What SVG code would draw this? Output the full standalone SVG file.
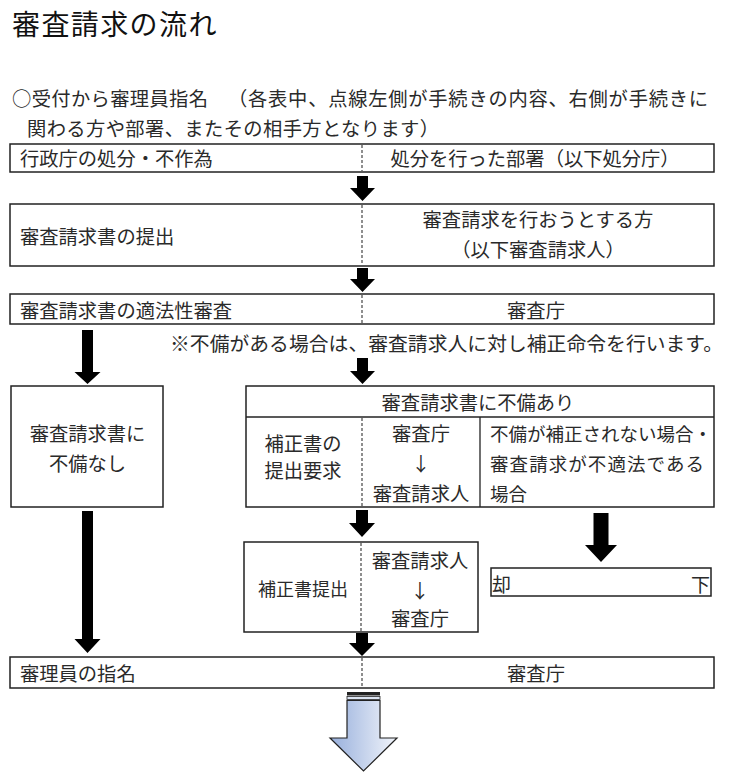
<svg xmlns="http://www.w3.org/2000/svg" width="730" height="779" viewBox="0 0 730 779">
<defs>
<linearGradient id="blueGrad" x1="0" y1="0" x2="1" y2="0">
<stop offset="0" stop-color="#97afdc"/>
<stop offset="1" stop-color="#f2f5fb"/>
</linearGradient>
<style>
.t{font-family:"Noto Sans CJK JP",sans-serif;font-size:19.3px;fill:#2a2a2a;dominant-baseline:central}
.m{text-anchor:middle}
.e{text-anchor:end}
.title{font-family:"Noto Sans CJK JP",sans-serif;font-size:28px;fill:#111;letter-spacing:1.4px}
.box{fill:#fff;stroke:#222;stroke-width:1.5}
.dash{stroke:#444;stroke-width:1.2;stroke-dasharray:3 2;fill:none}
.sol{stroke:#222;stroke-width:1.3;fill:none}
.arr{fill:#000}
</style>
</defs>
<rect width="730" height="779" fill="#fff"/>

<g id="title">
<text class="title" x="12" y="35">審査請求の流れ</text>
</g>

<g id="intro">
<text class="t" x="12" y="98" textLength="196" lengthAdjust="spacing">○受付から審理員指名</text>
<text class="t" x="228" y="98" textLength="480" lengthAdjust="spacing">（各表中、点線左側が手続きの内容、右側が手続きに</text>
<text class="t" x="27" y="128" textLength="412" lengthAdjust="spacing">関わる方や部署、またその相手方となります）</text>
</g>

<g id="node-shobun">
<rect class="box" x="10" y="144" width="704" height="28"/>
<line class="dash" x1="362" y1="145" x2="362" y2="171"/>
<text class="t" x="20" y="158">行政庁の処分・不作為</text>
<text class="t m" x="535" y="158">処分を行った部署（以下処分庁）</text>
</g>

<g id="node-teishutsu">
<rect class="box" x="10" y="204" width="704" height="62"/>
<line class="dash" x1="362" y1="205" x2="362" y2="265"/>
<text class="t" x="20" y="236">審査請求書の提出</text>
<text class="t m" x="538" y="219">審査請求を行おうとする方</text>
<text class="t m" x="538" y="249">（以下審査請求人）</text>
</g>

<g id="node-tekihousei">
<rect class="box" x="10" y="294" width="704" height="30"/>
<line class="dash" x1="362" y1="295" x2="362" y2="323"/>
<text class="t" x="20" y="310">審査請求書の適法性審査</text>
<text class="t m" x="536" y="310">審査庁</text>
</g>

<g id="note">
<text class="t" x="170" y="342" style="font-size:19.8px" textLength="553" lengthAdjust="spacing">※不備がある場合は、審査請求人に対し補正命令を行います。</text>
</g>

<g id="node-fubi-nashi">
<rect class="box" x="11" y="386" width="152" height="121"/>
<text class="t m" x="87.5" y="433">審査請求書に</text>
<text class="t m" x="87.5" y="463">不備なし</text>
</g>

<g id="node-fubi-ari">
<rect class="box" x="246" y="386" width="468" height="121"/>
<line class="sol" x1="246" y1="417" x2="714" y2="417"/>
<line class="dash" x1="362" y1="418" x2="362" y2="506"/>
<line class="sol" x1="480" y1="417" x2="480" y2="507"/>
<text class="t m" x="478" y="402">審査請求書に不備あり</text>
<text class="t m" x="303" y="443">補正書の</text>
<text class="t m" x="303" y="470">提出要求</text>
<text class="t m" x="421" y="433">審査庁</text>
<text class="t m" x="421" y="463">↓</text>
<text class="t m" x="421" y="493">審査請求人</text>
<text class="t" x="490" y="433" style="font-size:18.5px">不備が補正されない場合・</text>
<text class="t" x="490" y="463" style="font-size:18.5px" textLength="214" lengthAdjust="spacing">審査請求が不適法である</text>
<text class="t" x="490" y="493" style="font-size:18.5px">場合</text>
</g>

<g id="node-hosei-teishutsu">
<rect class="box" x="244" y="542" width="234" height="90"/>
<line class="dash" x1="361" y1="543" x2="361" y2="631"/>
<text class="t m" x="303" y="588" style="font-size:18px">補正書提出</text>
<text class="t m" x="420" y="560">審査請求人</text>
<text class="t m" x="420" y="590">↓</text>
<text class="t m" x="420" y="618">審査庁</text>
</g>

<g id="node-kyakka">
<rect class="box" x="491" y="568" width="220" height="28"/>
<text class="t" x="492" y="583" style="font-size:19px">却</text>
<text class="t e" x="710" y="583" style="font-size:19px">下</text>
</g>

<g id="node-shinriin">
<rect class="box" x="10" y="657" width="704" height="31"/>
<line class="dash" x1="362" y1="658" x2="362" y2="687"/>
<text class="t" x="20" y="673">審理員の指名</text>
<text class="t m" x="536" y="673">審査庁</text>
</g>

<g id="connectors">
<polygon class="arr" points="357,176 368,176 368,188 375,188 362.5,201 350,188 357,188"/>
<polygon class="arr" points="357,268 368,268 368,279 375,279 362.5,292 350,279 357,279"/>
<polygon class="arr" points="357,358 368,358 368,371 375,371 362.5,384 350,371 357,371"/>
<polygon class="arr" points="82,330 93,330 93,372 100.5,372 87.5,384 74.5,372 82,372"/>
<polygon class="arr" points="82,511 93,511 93,639 100.5,639 87.5,653 74.5,639 82,639"/>
<polygon class="arr" points="356,510 368,510 368,523 375,523 362,537 349,523 356,523"/>
<polygon class="arr" points="593.5,513 608.5,513 608.5,545 617,545 601,562 585,545 593.5,545"/>
<polygon class="arr" points="356,633 368,633 368,643 375,643 362,656 349,643 356,643"/>
<g id="next-arrow">
<path d="M347,700.5 H380 V738 H397 L363.5,771 L330,738 H347 Z" fill="url(#blueGrad)" stroke="#222" stroke-width="1.2" stroke-linejoin="miter"/>
<rect x="347" y="692" width="33" height="3.5" fill="#222"/>
<rect x="347" y="696.5" width="33" height="3" fill="#dde5f3" stroke="#222" stroke-width="0.8"/>
</g>
</g>
</svg>
